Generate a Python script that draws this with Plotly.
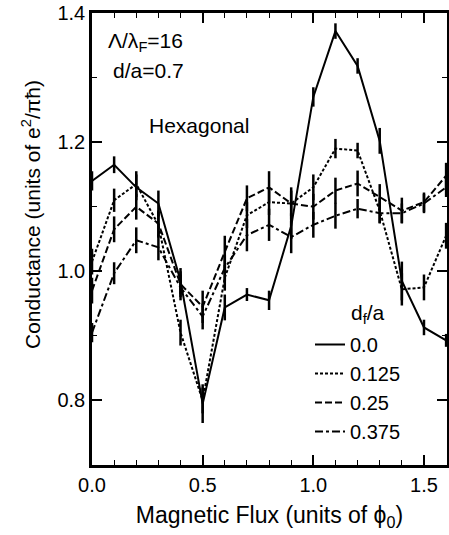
import plotly.graph_objects as go

flux = [0.0, 0.1, 0.2, 0.3, 0.4, 0.5, 0.6, 0.7, 0.8, 0.9, 1.0, 1.1, 1.2, 1.3, 1.4, 1.5, 1.6]

g_000 = [1.14, 1.165, 1.13, 1.105, 0.985, 0.795, 0.944, 0.964, 0.955, 1.07, 1.27, 1.372, 1.318, 1.202, 0.985, 0.913, 0.893]
e_000 = [0.015, 0.013, 0.02, 0.02, 0.02, 0.03, 0.02, 0.01, 0.015, 0.02, 0.015, 0.012, 0.012, 0.02, 0.03, 0.012, 0.01]

g_0125 = [1.015, 1.11, 1.135, 1.072, 0.905, 0.80, 0.99, 1.087, 1.107, 1.105, 1.13, 1.19, 1.187, 1.094, 0.972, 0.975, 1.055]
e_0125 = [0.02, 0.018, 0.02, 0.02, 0.02, 0.02, 0.02, 0.02, 0.02, 0.02, 0.02, 0.015, 0.012, 0.02, 0.025, 0.02, 0.02]

g_025 = [0.97, 1.065, 1.10, 1.074, 0.98, 0.945, 1.03, 1.113, 1.13, 1.105, 1.10, 1.125, 1.136, 1.115, 1.094, 1.107, 1.148]
e_025 = [0.02, 0.02, 0.02, 0.02, 0.02, 0.025, 0.025, 0.02, 0.025, 0.025, 0.02, 0.02, 0.02, 0.02, 0.02, 0.015, 0.02]

g_0375 = [0.905, 0.997, 1.048, 1.037, 0.975, 0.93, 1.005, 1.056, 1.072, 1.053, 1.072, 1.086, 1.097, 1.09, 1.09, 1.105, 1.13]
e_0375 = [0.015, 0.017, 0.02, 0.02, 0.02, 0.02, 0.02, 0.025, 0.025, 0.025, 0.02, 0.02, 0.015, 0.015, 0.015, 0.015, 0.015]

labels = ["0.0", "0.125", "0.25", "0.375"]
series = [g_000, g_0125, g_025, g_0375]
errors = [e_000, e_0125, e_025, e_0375]
dashes = ["solid", "3px,2px", "7px,3px", "8px,3px,3px,3px"]

FONT = "Liberation Sans, Arial, sans-serif"

W, H = 449, 535
L, R, T, B = 92, 2, 13, 70
pw, ph = W - L - R, H - T - B


def px(xp):
    return (xp - L) / pw


def py(yp):
    return (H - B - yp) / ph


fig = go.Figure()
for lab, ys, es, d in zip(labels, series, errors, dashes):
    fig.add_trace(go.Scatter(
        x=flux, y=ys, mode="lines", name=lab, legendgroup=lab,
        line=dict(color="black", width=2, dash=d),
        error_y=dict(type="data", array=es, visible=True, width=0, thickness=2.5, color="black"),
    ))

axis_common = dict(
    showline=True, linecolor="black", linewidth=2.5, mirror="ticks",
    ticks="inside", ticklen=10, tickwidth=1.5, tickcolor="black",
    showgrid=False, zeroline=False, automargin=False,
    ticklabeloverflow="allow",
    tickfont=dict(family=FONT, size=20, color="black"),
)

fig.update_xaxes(
    range=[0, 1.604], tickvals=[0, 0.5, 1.0, 1.5], ticktext=["0.0", "0.5", "1.0", "1.5"],
    minor=dict(dtick=0.1, ticks="inside", ticklen=5, tickwidth=1.2, tickcolor="black"),
    title=dict(text="Magnetic Flux (units of ϕ<sub>0</sub>)", font=dict(family=FONT, size=23, color="black"), standoff=13),
    **axis_common,
)
fig.update_yaxes(
    range=[0.7, 1.4], tickvals=[0.8, 1.0, 1.2, 1.4], ticktext=["0.8", "1.0", "1.2", "1.4"],
    minor=dict(dtick=0.1, ticks="inside", ticklen=5, tickwidth=1.2, tickcolor="black"),
    **axis_common,
)

annots = [
    dict(text="Λ/λ<sub>F</sub>=16", x=106, y=42),
    dict(text="d/a=0.7", x=111, y=70),
    dict(text="Hexagonal", x=147, y=125),
    dict(text="d<sub>f</sub>/a", x=349, y=314),
]
for a in annots:
    fig.add_annotation(
        text=a["text"], xref="paper", yref="paper",
        x=px(a["x"]), y=py(a["y"]),
        xanchor="left", yanchor="middle", showarrow=False,
        font=dict(family=FONT, size=21, color="black"),
    )
fig.add_annotation(
    text="Conductance (units of e<sup>2</sup>/πħ)", xref="paper", yref="paper",
    x=px(31), y=py(215), textangle=-90,
    xanchor="center", yanchor="middle", showarrow=False,
    font=dict(family=FONT, size=21, color="black"),
)

fig.update_layout(
    width=W, height=H,
    margin=dict(l=L, r=R, t=T, b=B, autoexpand=False),
    paper_bgcolor="white", plot_bgcolor="white",
    showlegend=True,
    legend=dict(
        x=px(310), y=py(325), xanchor="left", yanchor="top",
        bgcolor="rgba(0,0,0,0)", borderwidth=0,
        font=dict(family=FONT, size=20, color="black"),
        traceorder="grouped", tracegroupgap=0,
    ),
)

fig.write_html("out.html", config={"displayModeBar": False},
               post_script="document.body.style.margin='0';")
